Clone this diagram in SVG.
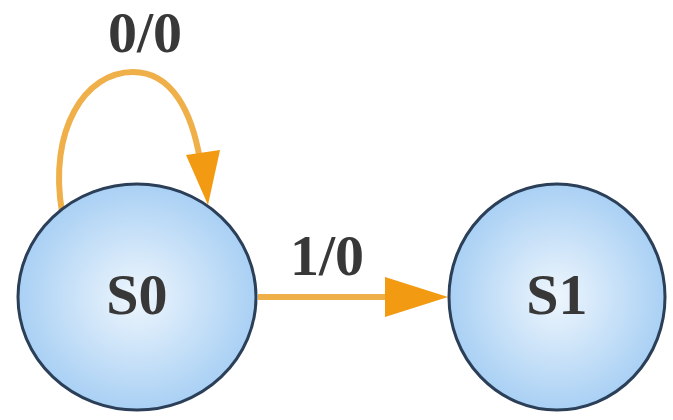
<svg xmlns="http://www.w3.org/2000/svg" width="673" height="420" viewBox="0 0 673 420">
<style>
.node ellipse{fill:url(#g);stroke:#2b3f58;stroke-width:3}
.lbl{font-family:"Liberation Serif",serif;font-weight:bold;fill:#383838;text-anchor:middle;dominant-baseline:central;font-size:58px}
.edge{fill:none;stroke:#efb04a;stroke-width:6}
.head{fill:#f29a12}
</style>
<defs>
<radialGradient id="g" cx="50%" cy="50%" r="50%">
<stop offset="0" stop-color="#eef6fd"/>
<stop offset="1" stop-color="#a9d0f4"/>
</radialGradient>
</defs>
<rect width="673" height="420" fill="#fff"/>
<g id="edges">
<path class="edge" d="M62,212 C48,130 85,72 133,72 C172,72 192,112 200,160"/>
<polygon class="head" points="186,155 220,150 208,205"/>
<text class="lbl" x="145" y="32">0/0</text>
<path class="edge" d="M258,297 L392,297"/>
<polygon class="head" points="385,277 448,297 385,317"/>
<text class="lbl" x="327" y="255">1/0</text>
</g>
<g id="S0" class="node">
<ellipse cx="137" cy="297" rx="119" ry="113"/>
<text class="lbl" x="137" y="294">S0</text>
</g>
<g id="S1" class="node">
<ellipse cx="557" cy="297" rx="108" ry="113"/>
<text class="lbl" x="557" y="294">S1</text>
</g>
</svg>
